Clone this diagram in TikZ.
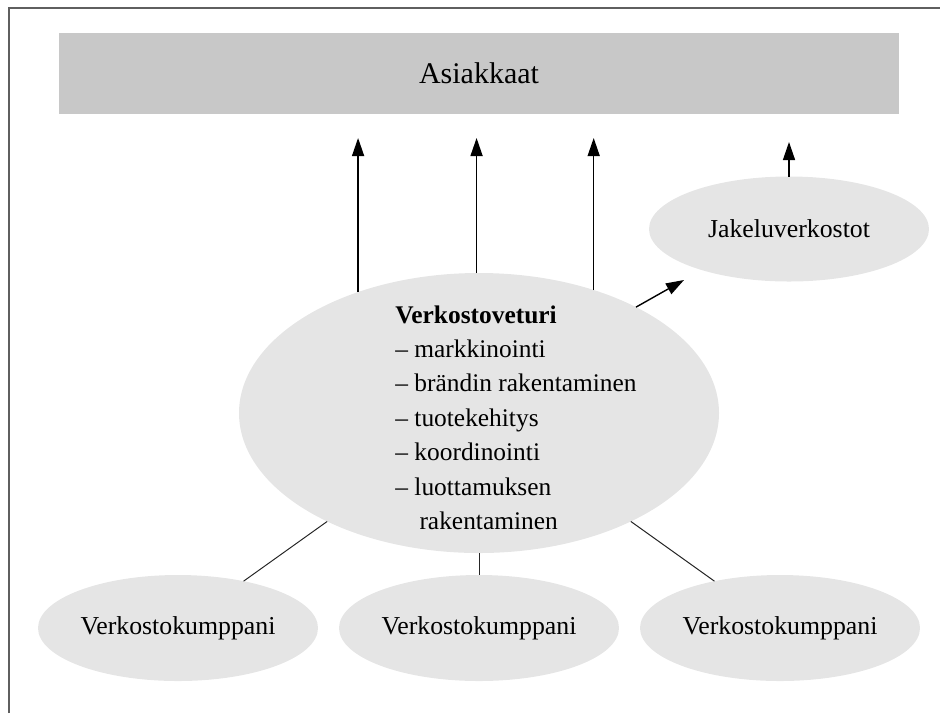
\documentclass[tikz,border=0pt]{standalone}
\usepackage{fontspec}
\setmainfont{Liberation Serif}
\usetikzlibrary{shapes.geometric,arrows.meta}
\definecolor{rectgray}{RGB}{200,200,200}
\definecolor{ellgray}{RGB}{229,229,229}
\definecolor{framegray}{RGB}{95,95,95}
\begin{document}
\begin{tikzpicture}[x=0.5pt,y=-0.5pt,
  ell/.style={ellipse, fill=ellgray, draw=none, inner sep=0pt, outer sep=0pt},
  lbl/.style={font=\fontsize{12.9}{15}\selectfont},
  arr/.style={-{Triangle[length=9pt,width=6pt]}, line width=0.7pt},
  conn/.style={line width=0.5pt, draw=black!85}]
\useasboundingbox (0,0) rectangle (940,713);
% frame (top and left edges)
\draw[framegray, line width=0.8pt] (9,713) -- (9,8) -- (940,8);
% customers bar
\node[fill=rectgray, minimum width=420pt, minimum height=40.5pt, inner sep=0pt,
      outer sep=0pt, anchor=north west, font=\fontsize{15}{17}\selectfont]
      (asi) at (59,33) {Asiakkaat};
% central ellipse and its text
\node[ell, minimum width=240pt, minimum height=140pt] (vet) at (479,413) {};
\node[anchor=north west, inner sep=0pt, align=left,
      font=\fontsize{12.7}{17.2}\selectfont] (vettxt) at (395,305)
  {\textbf{Verkostoveturi}\\
   – markkinointi\\
   – brändin rakentaminen\\
   – tuotekehitys\\
   – koordinointi\\
   – luottamuksen\\
   \hspace*{0.95em}rakentaminen};
% distribution networks
\node[ell, lbl, minimum width=140pt, minimum height=52.5pt] (jak) at (789,229) {Jakeluverkostot};
% network partners
\node[ell, lbl, minimum width=140pt, minimum height=53pt] (k1) at (178,628) {Verkostokumppani};
\node[ell, lbl, minimum width=140pt, minimum height=53pt] (k2) at (479,628) {Verkostokumppani};
\node[ell, lbl, minimum width=140pt, minimum height=53pt] (k3) at (780,628) {Verkostokumppani};
% arrows to customers
\draw[arr, shorten >=12pt] (vet.135) -- (vet.135 |- asi.south);
\draw[arr, shorten >=12pt] (vet.91) -- (vet.91 |- asi.south);
\draw[arr, shorten >=12pt] (vet.47) -- (vet.47 |- asi.south);
\draw[arr, shorten >=14pt] (jak.north) -- (jak.north |- asi.south);
% arrow towards distribution networks
\coordinate (jaktip) at (684,280);
\draw[arr] (vet.34) -- (jaktip);
% connectors to partners
\draw[conn] (vet) -- (k1);
\draw[conn] (vet) -- (k2);
\draw[conn] (vet) -- (k3);
\end{tikzpicture}
\end{document}
